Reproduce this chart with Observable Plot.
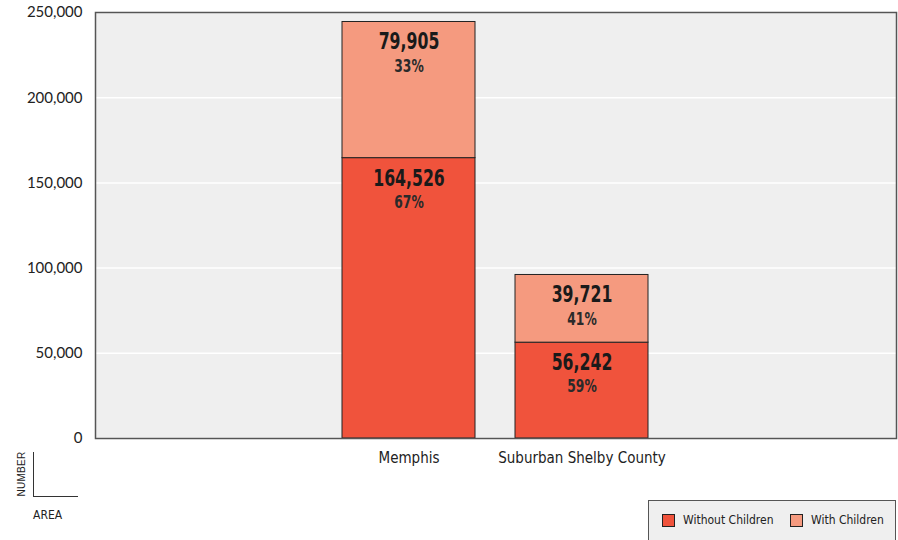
<!DOCTYPE html>
<html>
<head>
<meta charset="utf-8">
<script src="https://cdn.jsdelivr.net/npm/d3@7"></script>
<script src="https://cdn.jsdelivr.net/npm/@observablehq/plot@0.6"></script>
<style>
  html, body { margin: 0; padding: 0; background: #fff; }
  #wrap { position: relative; width: 898px; height: 540px; overflow: hidden; font-family: "DejaVu Sans Condensed", sans-serif; color: #222; }
  #chart svg { display: block; }
  .axis-key-y { position: absolute; left: 33px; top: 452px; width: 45px; height: 45px; border-left: 1px solid #333; border-bottom: 1px solid #333; box-sizing: border-box; }
  .axis-key-y-label { position: absolute; left: 21px; top: 474px; transform: translate(-50%, -50%) rotate(-90deg); font-family: "Liberation Sans", sans-serif; font-size: 10px; letter-spacing: 0.3px; white-space: nowrap; }
  .axis-key-x-label { position: absolute; left: 33px; top: 508px; font-size: 12px; }
  .legend { position: absolute; left: 648px; top: 500px; width: 248px; height: 50px; background: #efefef; border: 1px solid #555; box-sizing: border-box; }
  .legend .item { position: absolute; top: 12px; display: flex; align-items: center; font-size: 12px; white-space: nowrap; }
  .legend .swatch { width: 11px; height: 11px; border: 1px solid #222; margin-right: 8px; }
</style>
</head>
<body>
<div id="wrap">
  <div id="chart"></div>
  <div class="axis-key-y"></div>
  <div class="axis-key-y-label">NUMBER</div>
  <div class="axis-key-x-label">AREA</div>
  <div class="legend" id="legend"></div>
</div>
<script>
// Households by area, split by presence of children
const areas = ["Memphis", "Suburban Shelby County"];
const withoutChildren = [164526, 56242];
const withChildren = [79905, 39721];
const seriesNames = ["Without Children", "With Children"];
const seriesColors = ["#f0533c", "#f59a7f"];
const yTicks = [0, 50000, 100000, 150000, 200000, 250000];

const series = [withoutChildren, withChildren];
const data = areas.flatMap((area, i) => {
  const total = withoutChildren[i] + withChildren[i];
  return seriesNames.map((group, s) => ({
    area,
    group,
    value: series[s][i],
    share: Math.round((series[s][i] / total) * 100)
  }));
});

const narrow = "DejaVu Sans Condensed, sans-serif";

const chart = Plot.plot({
  width: 898,
  height: 540,
  marginLeft: 95,
  marginRight: 2,
  marginTop: 12,
  marginBottom: 102,
  style: { background: "transparent", color: "#222" },
  x: { domain: areas, paddingInner: 0.23, paddingOuter: 1.417, label: null },
  y: { domain: [0, 250000], label: null },
  color: { domain: seriesNames, range: seriesColors },
  marks: [
    Plot.frame({ fill: "#efefef", stroke: null }),
    Plot.gridY(yTicks, { stroke: "#fff", strokeOpacity: 1, strokeWidth: 1.5 }),
    Plot.barY(data, {
      x: "area", y: "value", fill: "group", stroke: "#222", strokeWidth: 1,
      order: seriesNames
    }),
    // segment totals
    Plot.text(data, Plot.stackY2({
      x: "area", y: "value", z: "group", order: seriesNames,
      text: d => d3.format(",")(d.value),
      dy: 20, fontWeight: "bold", fontSize: 23, fontFamily: narrow, fill: "#1a1a1a"
    })),
    // segment shares
    Plot.text(data, Plot.stackY2({
      x: "area", y: "value", z: "group", order: seriesNames,
      text: d => d.share + "%",
      dy: 44, fontWeight: "bold", fontSize: 18, fontFamily: narrow, fill: "#2a2a2a"
    })),
    Plot.frame({ stroke: "#555", strokeWidth: 1.5 }),
    Plot.axisY(yTicks, {
      tickSize: 0, tickPadding: 13, tickFormat: d3.format(","),
      fontSize: 15, fontFamily: "Lato, sans-serif", fill: "#222"
    }),
    Plot.axisX({
      tickSize: 0, tickPadding: 14, fontSize: 15, fontFamily: narrow, fill: "#222"
    })
  ]
});
document.getElementById("chart").appendChild(chart);

// Narrow the bar labels horizontally to a compressed look
const labelGroups = chart.querySelectorAll('g[aria-label="text"]');
labelGroups.forEach(g => {
  g.querySelectorAll("text").forEach(t => {
    const w = t.getComputedTextLength();
    t.setAttribute("textLength", (w * 0.76).toFixed(1));
    t.setAttribute("lengthAdjust", "spacingAndGlyphs");
  });
});

// Legend inside the grey box at the lower right
const legend = document.getElementById("legend");
const legendX = [13, 141];
seriesNames.forEach((name, i) => {
  const item = document.createElement("div");
  item.className = "item";
  item.style.left = legendX[i] + "px";
  const sw = document.createElement("div");
  sw.className = "swatch";
  sw.style.background = seriesColors[i];
  const label = document.createElement("span");
  label.textContent = name;
  item.appendChild(sw);
  item.appendChild(label);
  legend.appendChild(item);
});
</script>
</body>
</html>
